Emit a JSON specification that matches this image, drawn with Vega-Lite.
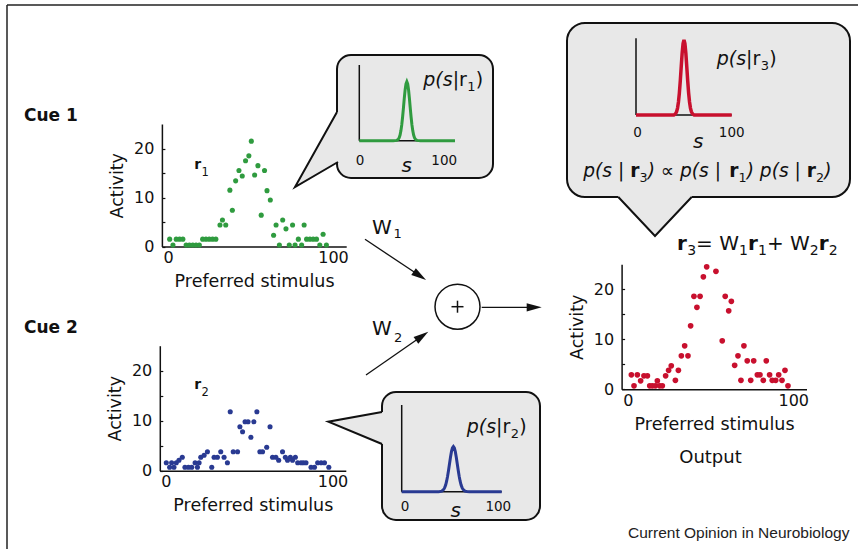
{
"$schema":"https://vega.github.io/schema/vega-lite/v6.json",
"width":858,"height":549,"autosize":{"type":"none"},"padding":0,"background":"white",
"config":{"view":{"stroke":null},
 "axis":{"grid":false,"domainColor":"#111","domainWidth":1.5,"labelFont":"DejaVu Sans","labelFontSize":16,"labelColor":"#111","titleFont":"DejaVu Sans","titleFontSize":17.5,"titleFontWeight":"normal","titleColor":"#111","ticks":false,"labelFlush":false,"labelOverlap":false,"labelBound":false},
 "text":{"font":"DejaVu Sans","color":"#111"}},
"datasets":{
 "cue1":[{"s":1,"a":1.5},{"s":3,"a":0.3},{"s":5,"a":1.5},{"s":7,"a":1.5},{"s":9,"a":1.5},{"s":11,"a":0.3},{"s":13,"a":0.3},{"s":15,"a":0.3},{"s":17,"a":0.3},{"s":19,"a":0.3},{"s":21,"a":1.5},{"s":23,"a":1.5},{"s":25,"a":1.5},{"s":27,"a":1.5},{"s":29,"a":1.5},{"s":31.5,"a":4.4},{"s":33,"a":5.4},{"s":35,"a":4.4},{"s":37.5,"a":11.5},{"s":39,"a":7.4},{"s":41,"a":13.4},{"s":43,"a":15.5},{"s":45,"a":14.4},{"s":47,"a":17.5},{"s":49,"a":18.5},{"s":50.5,"a":21.5},{"s":52.5,"a":14.6},{"s":54.5,"a":16.5},{"s":56.5,"a":6.4},{"s":58.5,"a":15.5},{"s":60,"a":11.4},{"s":62,"a":9.5},{"s":64,"a":2.3},{"s":65.5,"a":4.4},{"s":67.5,"a":0.3},{"s":69.5,"a":5.4},{"s":71.5,"a":3.6},{"s":73.5,"a":0.3},{"s":75.5,"a":4.4},{"s":77,"a":0.3},{"s":79,"a":1.5},{"s":81,"a":0.3},{"s":82.5,"a":4.4},{"s":84,"a":1.5},{"s":86,"a":1.5},{"s":88,"a":1.5},{"s":90,"a":1.5},{"s":92,"a":0.3},{"s":94,"a":2.5},{"s":96,"a":0.3}],
 "cue2":[{"s":0.2,"a":1.6},{"s":2.2,"a":0.7},{"s":3.4,"a":1.6},{"s":4.8,"a":0.7},{"s":6.2,"a":1.6},{"s":7.8,"a":2.1},{"s":9.8,"a":2.7},{"s":11.4,"a":0.7},{"s":13.5,"a":0.7},{"s":15.5,"a":0.7},{"s":17.5,"a":1.6},{"s":18.9,"a":0.7},{"s":19.9,"a":1.6},{"s":20.9,"a":2.7},{"s":22.9,"a":3.1},{"s":24.9,"a":3.8},{"s":27.5,"a":0.7},{"s":28.9,"a":2.7},{"s":30.9,"a":2.7},{"s":32.9,"a":3.8},{"s":34.9,"a":2.7},{"s":36.9,"a":1.6},{"s":38.6,"a":11.8},{"s":40.4,"a":3.8},{"s":43,"a":3.8},{"s":44.4,"a":8.8},{"s":46,"a":7.8},{"s":47.5,"a":9.8},{"s":49.3,"a":9.8},{"s":51,"a":6.7},{"s":52.8,"a":9.8},{"s":54.6,"a":11.8},{"s":56.4,"a":3.8},{"s":58,"a":3.8},{"s":60.5,"a":4.7},{"s":62.5,"a":8.8},{"s":64,"a":2.7},{"s":66,"a":2.7},{"s":67.7,"a":2.1},{"s":70,"a":3.8},{"s":71.7,"a":2.7},{"s":73,"a":2.1},{"s":74.7,"a":2.7},{"s":76,"a":2.1},{"s":77.7,"a":2.7},{"s":79.1,"a":1.6},{"s":81.1,"a":1.6},{"s":82.5,"a":1.6},{"s":84.1,"a":1.6},{"s":87.1,"a":0.7},{"s":89.2,"a":0.7},{"s":91.1,"a":1.6},{"s":93.2,"a":1.6},{"s":95.2,"a":1.6},{"s":97.8,"a":0.7}],
 "out":[{"s":2.2,"a":2.9},{"s":3.8,"a":0.7},{"s":5.8,"a":2.9},{"s":7.8,"a":1.7},{"s":9.8,"a":2.7},{"s":11.9,"a":2.7},{"s":13.3,"a":0.7},{"s":14.9,"a":0.7},{"s":16.7,"a":0.7},{"s":17.9,"a":1.7},{"s":19.3,"a":0.7},{"s":20.9,"a":0.7},{"s":22.9,"a":2.7},{"s":24.7,"a":3.8},{"s":26.3,"a":4.7},{"s":28.8,"a":1.8},{"s":30.6,"a":3.8},{"s":32.4,"a":6.7},{"s":34.4,"a":8.7},{"s":36.4,"a":6.7},{"s":38,"a":12.7},{"s":40,"a":18.6},{"s":41.8,"a":16.4},{"s":43.7,"a":18.6},{"s":45.7,"a":22.5},{"s":47.7,"a":24.5},{"s":53.3,"a":23.6},{"s":57.1,"a":9.7},{"s":58.9,"a":18.6},{"s":61,"a":15.7},{"s":62.6,"a":17.6},{"s":64.6,"a":4.8},{"s":66.6,"a":6.7},{"s":68.4,"a":1.8},{"s":70.2,"a":8.7},{"s":72.2,"a":5.7},{"s":74.3,"a":1.8},{"s":76.1,"a":5.7},{"s":78.3,"a":2.9},{"s":79.9,"a":2.9},{"s":81.9,"a":1.8},{"s":83.7,"a":5.7},{"s":85.7,"a":2.9},{"s":87.3,"a":1.8},{"s":89.4,"a":1.8},{"s":91.2,"a":2.9},{"s":93.2,"a":1.8},{"s":95,"a":3.8},{"s":96.8,"a":0.7}],
 "green_curve":[{"s":0,"p":0},{"s":40,"p":0},{"s":44,"p":0.004},{"s":46,"p":0.02},{"s":47,"p":0.041},{"s":48,"p":0.075},{"s":49,"p":0.13},{"s":50,"p":0.209},{"s":51,"p":0.313},{"s":52,"p":0.435},{"s":53,"p":0.561},{"s":54,"p":0.674},{"s":55,"p":0.752},{"s":56,"p":0.78},{"s":57,"p":0.752},{"s":58,"p":0.674},{"s":59,"p":0.561},{"s":60,"p":0.435},{"s":61,"p":0.313},{"s":62,"p":0.209},{"s":63,"p":0.13},{"s":64,"p":0.075},{"s":65,"p":0.041},{"s":66,"p":0.02},{"s":68,"p":0.004},{"s":72,"p":0},{"s":112.7,"p":0}],
 "blue_curve":[{"s":0,"p":0},{"s":38,"p":0},{"s":39.5,"p":0.0015},{"s":41.5,"p":0.007},{"s":43.5,"p":0.027},{"s":44.5,"p":0.047},{"s":45.5,"p":0.077},{"s":46.5,"p":0.121},{"s":47.5,"p":0.178},{"s":48.5,"p":0.247},{"s":49.5,"p":0.323},{"s":50.5,"p":0.398},{"s":51.5,"p":0.462},{"s":52.5,"p":0.505},{"s":53.5,"p":0.52},{"s":54.5,"p":0.505},{"s":55.5,"p":0.462},{"s":56.5,"p":0.398},{"s":57.5,"p":0.323},{"s":58.5,"p":0.247},{"s":59.5,"p":0.178},{"s":60.5,"p":0.121},{"s":61.5,"p":0.077},{"s":62.5,"p":0.047},{"s":63.5,"p":0.027},{"s":65.5,"p":0.007},{"s":67.5,"p":0.0015},{"s":70,"p":0},{"s":103.5,"p":0}],
 "red_curve":[{"s":0,"p":0},{"s":41,"p":0},{"s":42,"p":0.007},{"s":43,"p":0.019},{"s":44,"p":0.043},{"s":45,"p":0.09},{"s":46,"p":0.169},{"s":47,"p":0.289},{"s":48,"p":0.449},{"s":49,"p":0.632},{"s":50,"p":0.806},{"s":51,"p":0.933},{"s":52,"p":0.98},{"s":53,"p":0.933},{"s":54,"p":0.806},{"s":55,"p":0.632},{"s":56,"p":0.449},{"s":57,"p":0.289},{"s":58,"p":0.169},{"s":59,"p":0.09},{"s":60,"p":0.043},{"s":61,"p":0.019},{"s":62,"p":0.007},{"s":63,"p":0},{"s":103.7,"p":0}],
 "tailfill":[{"b":"g","i":0,"x":343,"y":112},{"b":"g","i":1,"x":337,"y":112},{"b":"g","i":2,"x":295,"y":187},{"b":"g","i":3,"x":338,"y":162},{"b":"g","i":4,"x":343,"y":162},
  {"b":"b","i":0,"x":387,"y":412},{"b":"b","i":1,"x":382,"y":412},{"b":"b","i":2,"x":328.3,"y":421.7},{"b":"b","i":3,"x":382,"y":444},{"b":"b","i":4,"x":387,"y":444},
  {"b":"r","i":0,"x":618.3,"y":192},{"b":"r","i":1,"x":618.3,"y":197},{"b":"r","i":2,"x":655,"y":236},{"b":"r","i":3,"x":691.7,"y":197},{"b":"r","i":4,"x":691.7,"y":192}],
 "tailline":[{"b":"g","i":0,"x":337,"y":112},{"b":"g","i":1,"x":295,"y":187},{"b":"g","i":2,"x":338,"y":162},
  {"b":"b","i":0,"x":382,"y":412},{"b":"b","i":1,"x":328.3,"y":421.7},{"b":"b","i":2,"x":382,"y":444},
  {"b":"r","i":0,"x":618.3,"y":197},{"b":"r","i":1,"x":655,"y":236},{"b":"r","i":2,"x":691.7,"y":197}]
},
"resolve":{"scale":{"x":"independent","y":"independent"}},
"layer":[
 {"data":{"values":[{}]},
  "layer":[
   {"mark":{"type":"rule","stroke":"#222","strokeWidth":1.5},"encoding":{"x":{"datum":7,"scale":{"domain":[0,858],"range":[0,858],"nice":false,"zero":false},"axis":null},"x2":{"datum":858},"y":{"datum":5,"scale":{"domain":[0,549],"range":[0,549],"nice":false,"zero":false},"axis":null}}},
   {"mark":{"type":"rule","stroke":"#222","strokeWidth":1.5},"encoding":{"x":{"datum":7,"axis":null},"y":{"datum":5,"axis":null},"y2":{"datum":549}}},
   {"mark":{"type":"rect","fill":"#e8e8e8","stroke":"#111","strokeWidth":2,"cornerRadius":14},"encoding":{"x":{"datum":337,"axis":null},"x2":{"datum":493},"y":{"datum":55,"axis":null},"y2":{"datum":178}}},
   {"mark":{"type":"rect","fill":"#e8e8e8","stroke":"#111","strokeWidth":2,"cornerRadius":14},"encoding":{"x":{"datum":382,"axis":null},"x2":{"datum":540},"y":{"datum":392,"axis":null},"y2":{"datum":520}}},
   {"mark":{"type":"rect","fill":"#e8e8e8","stroke":"#111","strokeWidth":2,"cornerRadius":18},"encoding":{"x":{"datum":567,"axis":null},"x2":{"datum":850},"y":{"datum":23,"axis":null},"y2":{"datum":197}}},
   {"data":{"name":"tailfill"},"mark":{"type":"line","fill":"#e8e8e8","strokeWidth":0},"encoding":{"x":{"field":"x","type":"quantitative","axis":null},"y":{"field":"y","type":"quantitative","axis":null},"detail":{"field":"b"},"order":{"field":"i"}}},
   {"data":{"name":"tailline"},"mark":{"type":"line","stroke":"#111","strokeWidth":2,"strokeJoin":"miter"},"encoding":{"x":{"field":"x","type":"quantitative","axis":null},"y":{"field":"y","type":"quantitative","axis":null},"detail":{"field":"b"},"order":{"field":"i"}}},
   {"mark":{"type":"point","shape":"circle","size":2025,"filled":true,"fill":"white","stroke":"#111","strokeWidth":1.5,"opacity":1},"encoding":{"x":{"datum":457.5,"axis":null},"y":{"datum":306.7,"axis":null}}},
   {"mark":{"type":"rule","stroke":"#111","strokeWidth":1.5},"encoding":{"x":{"datum":451.5,"axis":null},"x2":{"datum":463.5},"y":{"datum":306.7,"axis":null}}},
   {"mark":{"type":"rule","stroke":"#111","strokeWidth":1.5},"encoding":{"x":{"datum":457.5,"axis":null},"y":{"datum":300.7,"axis":null},"y2":{"datum":312.7}}},
   {"mark":{"type":"rule","stroke":"#111","strokeWidth":1.3},"encoding":{"x":{"datum":365,"axis":null},"y":{"datum":239.3,"axis":null},"x2":{"datum":419.8},"y2":{"datum":275.8}}},
   {"mark":{"type":"point","shape":"M -1 -0.55 L 1 0 L -1 0.55 Z","size":225,"filled":true,"fill":"#111","opacity":1,"angle":33.7},"encoding":{"x":{"datum":419.8,"axis":null},"y":{"datum":275.8,"axis":null}}},
   {"mark":{"type":"rule","stroke":"#111","strokeWidth":1.3},"encoding":{"x":{"datum":366,"axis":null},"y":{"datum":375,"axis":null},"x2":{"datum":422.1},"y2":{"datum":336}}},
   {"mark":{"type":"point","shape":"M -1 -0.55 L 1 0 L -1 0.55 Z","size":225,"filled":true,"fill":"#111","opacity":1,"angle":-34.8},"encoding":{"x":{"datum":422.1,"axis":null},"y":{"datum":336,"axis":null}}},
   {"mark":{"type":"rule","stroke":"#111","strokeWidth":1.3},"encoding":{"x":{"datum":481.7,"axis":null},"x2":{"datum":532},"y":{"datum":307.3,"axis":null}}},
   {"mark":{"type":"point","shape":"M -1 -0.55 L 1 0 L -1 0.55 Z","size":225,"filled":true,"fill":"#111","opacity":1,"angle":0},"encoding":{"x":{"datum":534.2,"axis":null},"y":{"datum":307.3,"axis":null}}},
   {"mark":{"type":"text","text":"Cue 1","fontWeight":"bold","fontSize":17,"align":"left","baseline":"alphabetic"},"encoding":{"x":{"datum":24,"axis":null},"y":{"datum":121,"axis":null}}},
   {"mark":{"type":"text","text":"Cue 2","fontWeight":"bold","fontSize":17,"align":"left","baseline":"alphabetic"},"encoding":{"x":{"datum":24,"axis":null},"y":{"datum":333,"axis":null}}},
   {"mark":{"type":"text","text":"r","fontWeight":"bold","fontSize":14,"align":"left","baseline":"alphabetic"},"encoding":{"x":{"datum":194.3,"axis":null},"y":{"datum":169,"axis":null}}},
   {"mark":{"type":"text","text":"1","fontSize":11.5,"align":"left","baseline":"alphabetic"},"encoding":{"x":{"datum":201.5,"axis":null},"y":{"datum":176,"axis":null}}},
   {"mark":{"type":"text","text":"r","fontWeight":"bold","fontSize":14,"align":"left","baseline":"alphabetic"},"encoding":{"x":{"datum":194.3,"axis":null},"y":{"datum":389,"axis":null}}},
   {"mark":{"type":"text","text":"2","fontSize":11.5,"align":"left","baseline":"alphabetic"},"encoding":{"x":{"datum":201.5,"axis":null},"y":{"datum":395.5,"axis":null}}},
   {"mark":{"type":"text","text":"W","fontSize":20,"align":"left","baseline":"alphabetic"},"encoding":{"x":{"datum":372,"axis":null},"y":{"datum":233.5,"axis":null}}},
   {"mark":{"type":"text","text":"1","fontSize":13,"align":"left","baseline":"alphabetic"},"encoding":{"x":{"datum":393.5,"axis":null},"y":{"datum":237.5,"axis":null}}},
   {"mark":{"type":"text","text":"W","fontSize":20,"align":"left","baseline":"alphabetic"},"encoding":{"x":{"datum":372,"axis":null},"y":{"datum":335,"axis":null}}},
   {"mark":{"type":"text","text":"2","fontSize":13,"align":"left","baseline":"alphabetic"},"encoding":{"x":{"datum":394,"axis":null},"y":{"datum":341.7,"axis":null}}},
   {"mark":{"type":"text","text":"Output","fontSize":18,"align":"center","baseline":"alphabetic"},"encoding":{"x":{"datum":710.5,"axis":null},"y":{"datum":463,"axis":null}}},
   {"mark":{"type":"text","text":"Current Opinion in Neurobiology","font":"Liberation Sans","fontSize":15.5,"align":"left","baseline":"alphabetic","color":"#222"},"encoding":{"x":{"datum":628,"axis":null},"y":{"datum":537.5,"axis":null}}},
   {"mark":{"type":"text","text":"0","fontSize":13.5,"align":"center","baseline":"alphabetic"},"encoding":{"x":{"datum":360,"axis":null},"y":{"datum":164.5,"axis":null}}},
   {"mark":{"type":"text","text":"100","fontSize":13.5,"align":"center","baseline":"alphabetic"},"encoding":{"x":{"datum":444.2,"axis":null},"y":{"datum":164.5,"axis":null}}},
   {"mark":{"type":"text","text":"s","fontSize":20,"fontStyle":"italic","align":"center","baseline":"alphabetic"},"encoding":{"x":{"datum":406.7,"axis":null},"y":{"datum":171.7,"axis":null}}},
   {"mark":{"type":"text","text":"p(s|","fontSize":19,"fontStyle":"italic","align":"left","baseline":"alphabetic"},"encoding":{"x":{"datum":423.3,"axis":null},"y":{"datum":86,"axis":null}}},
   {"mark":{"type":"text","text":"r","fontSize":19,"align":"left","baseline":"alphabetic"},"encoding":{"x":{"datum":459.1,"axis":null},"y":{"datum":86,"axis":null}}},
   {"mark":{"type":"text","text":"1","fontSize":13,"align":"left","baseline":"alphabetic"},"encoding":{"x":{"datum":467.3,"axis":null},"y":{"datum":91,"axis":null}}},
   {"mark":{"type":"text","text":")","fontSize":19,"align":"left","baseline":"alphabetic"},"encoding":{"x":{"datum":475.8,"axis":null},"y":{"datum":86,"axis":null}}},
   {"mark":{"type":"text","text":"0","fontSize":13.5,"align":"center","baseline":"alphabetic"},"encoding":{"x":{"datum":405,"axis":null},"y":{"datum":510.7,"axis":null}}},
   {"mark":{"type":"text","text":"100","fontSize":13.5,"align":"center","baseline":"alphabetic"},"encoding":{"x":{"datum":498.3,"axis":null},"y":{"datum":510.7,"axis":null}}},
   {"mark":{"type":"text","text":"s","fontSize":20,"fontStyle":"italic","align":"center","baseline":"alphabetic"},"encoding":{"x":{"datum":455.8,"axis":null},"y":{"datum":516.7,"axis":null}}},
   {"mark":{"type":"text","text":"p(s|","fontSize":19,"fontStyle":"italic","align":"left","baseline":"alphabetic"},"encoding":{"x":{"datum":466.7,"axis":null},"y":{"datum":433.3,"axis":null}}},
   {"mark":{"type":"text","text":"r","fontSize":19,"align":"left","baseline":"alphabetic"},"encoding":{"x":{"datum":502.5,"axis":null},"y":{"datum":433.3,"axis":null}}},
   {"mark":{"type":"text","text":"2","fontSize":13,"align":"left","baseline":"alphabetic"},"encoding":{"x":{"datum":510.7,"axis":null},"y":{"datum":438.3,"axis":null}}},
   {"mark":{"type":"text","text":")","fontSize":19,"align":"left","baseline":"alphabetic"},"encoding":{"x":{"datum":519.2,"axis":null},"y":{"datum":433.3,"axis":null}}},
   {"mark":{"type":"text","text":"0","fontSize":13.5,"align":"center","baseline":"alphabetic"},"encoding":{"x":{"datum":637.5,"axis":null},"y":{"datum":137.3,"axis":null}}},
   {"mark":{"type":"text","text":"100","fontSize":13.5,"align":"center","baseline":"alphabetic"},"encoding":{"x":{"datum":731.7,"axis":null},"y":{"datum":137.3,"axis":null}}},
   {"mark":{"type":"text","text":"s","fontSize":20,"fontStyle":"italic","align":"center","baseline":"alphabetic"},"encoding":{"x":{"datum":698.3,"axis":null},"y":{"datum":148.3,"axis":null}}},
   {"mark":{"type":"text","text":"p(s|","fontSize":19,"fontStyle":"italic","align":"left","baseline":"alphabetic"},"encoding":{"x":{"datum":716.7,"axis":null},"y":{"datum":65,"axis":null}}},
   {"mark":{"type":"text","text":"r","fontSize":19,"align":"left","baseline":"alphabetic"},"encoding":{"x":{"datum":752.5,"axis":null},"y":{"datum":65,"axis":null}}},
   {"mark":{"type":"text","text":"3","fontSize":13,"align":"left","baseline":"alphabetic"},"encoding":{"x":{"datum":760.7,"axis":null},"y":{"datum":70,"axis":null}}},
   {"mark":{"type":"text","text":")","fontSize":19,"align":"left","baseline":"alphabetic"},"encoding":{"x":{"datum":769.2,"axis":null},"y":{"datum":65,"axis":null}}},
   {"mark":{"type":"text","text":"p(s | ","fontSize":18.6,"fontStyle":"italic","align":"left","baseline":"alphabetic"},"encoding":{"x":{"datum":583.3,"axis":null},"y":{"datum":177,"axis":null}}},
   {"mark":{"type":"text","text":"r","fontSize":18.6,"fontWeight":"bold","align":"left","baseline":"alphabetic"},"encoding":{"x":{"datum":630.2,"axis":null},"y":{"datum":177,"axis":null}}},
   {"mark":{"type":"text","text":"3","fontSize":12.7,"align":"left","baseline":"alphabetic"},"encoding":{"x":{"datum":639.6,"axis":null},"y":{"datum":181.5,"axis":null}}},
   {"mark":{"type":"text","text":") ∝ p(s | ","fontSize":18.6,"fontStyle":"italic","align":"left","baseline":"alphabetic"},"encoding":{"x":{"datum":647.7,"axis":null},"y":{"datum":177,"axis":null}}},
   {"mark":{"type":"text","text":"r","fontSize":18.6,"fontWeight":"bold","align":"left","baseline":"alphabetic"},"encoding":{"x":{"datum":729.2,"axis":null},"y":{"datum":177,"axis":null}}},
   {"mark":{"type":"text","text":"1","fontSize":12.7,"align":"left","baseline":"alphabetic"},"encoding":{"x":{"datum":738.6,"axis":null},"y":{"datum":181.5,"axis":null}}},
   {"mark":{"type":"text","text":") p(s | ","fontSize":18.6,"fontStyle":"italic","align":"left","baseline":"alphabetic"},"encoding":{"x":{"datum":746.7,"axis":null},"y":{"datum":177,"axis":null}}},
   {"mark":{"type":"text","text":"r","fontSize":18.6,"fontWeight":"bold","align":"left","baseline":"alphabetic"},"encoding":{"x":{"datum":806.7,"axis":null},"y":{"datum":177,"axis":null}}},
   {"mark":{"type":"text","text":"2","fontSize":12.7,"align":"left","baseline":"alphabetic"},"encoding":{"x":{"datum":816.1,"axis":null},"y":{"datum":181.5,"axis":null}}},
   {"mark":{"type":"text","text":")","fontSize":18.6,"fontStyle":"italic","align":"left","baseline":"alphabetic"},"encoding":{"x":{"datum":824.2,"axis":null},"y":{"datum":177,"axis":null}}},
   {"mark":{"type":"text","text":"r","fontSize":20,"fontWeight":"bold","align":"left","baseline":"alphabetic"},"encoding":{"x":{"datum":677,"axis":null},"y":{"datum":250,"axis":null}}},
   {"mark":{"type":"text","text":"3","fontSize":14,"align":"left","baseline":"alphabetic"},"encoding":{"x":{"datum":687.2,"axis":null},"y":{"datum":254.5,"axis":null}}},
   {"mark":{"type":"text","text":"= W","fontSize":20,"align":"left","baseline":"alphabetic"},"encoding":{"x":{"datum":696.1,"axis":null},"y":{"datum":250,"axis":null}}},
   {"mark":{"type":"text","text":"1","fontSize":14,"align":"left","baseline":"alphabetic"},"encoding":{"x":{"datum":739,"axis":null},"y":{"datum":254.5,"axis":null}}},
   {"mark":{"type":"text","text":"r","fontSize":20,"fontWeight":"bold","align":"left","baseline":"alphabetic"},"encoding":{"x":{"datum":747.9,"axis":null},"y":{"datum":250,"axis":null}}},
   {"mark":{"type":"text","text":"1","fontSize":14,"align":"left","baseline":"alphabetic"},"encoding":{"x":{"datum":758,"axis":null},"y":{"datum":254.5,"axis":null}}},
   {"mark":{"type":"text","text":"+ W","fontSize":20,"align":"left","baseline":"alphabetic"},"encoding":{"x":{"datum":766.9,"axis":null},"y":{"datum":250,"axis":null}}},
   {"mark":{"type":"text","text":"2","fontSize":14,"align":"left","baseline":"alphabetic"},"encoding":{"x":{"datum":809.8,"axis":null},"y":{"datum":254.5,"axis":null}}},
   {"mark":{"type":"text","text":"r","fontSize":20,"fontWeight":"bold","align":"left","baseline":"alphabetic"},"encoding":{"x":{"datum":818.7,"axis":null},"y":{"datum":250,"axis":null}}},
   {"mark":{"type":"text","text":"2","fontSize":14,"align":"left","baseline":"alphabetic"},"encoding":{"x":{"datum":828.8,"axis":null},"y":{"datum":254.5,"axis":null}}}
  ]},
 {"layer":[
   {"data":{"values":[{}]},"mark":{"type":"rule","stroke":"#111","strokeWidth":1.5},"encoding":{"x":{"datum":0,"scale":{"domain":[0,100],"range":[359.3,444.2],"nice":false,"zero":false},"axis":null},"y":{"datum":0,"scale":{"domain":[0,1],"range":[140.7,65],"nice":false,"zero":false},"axis":null},"y2":{"datum":1}}},
   {"data":{"values":[{}]},"mark":{"type":"rule","stroke":"#111","strokeWidth":1.5},"encoding":{"x":{"datum":0,"axis":null},"x2":{"datum":112.7},"y":{"datum":0,"axis":null}}},
   {"data":{"name":"green_curve"},"mark":{"type":"line","stroke":"#2f9b3f","strokeWidth":3},"encoding":{"x":{"field":"s","type":"quantitative","axis":null},"y":{"field":"p","type":"quantitative","axis":null}}}
 ]},
 {"layer":[
   {"data":{"values":[{}]},"mark":{"type":"rule","stroke":"#111","strokeWidth":1.5},"encoding":{"x":{"datum":0,"scale":{"domain":[0,100],"range":[401.7,498.3],"nice":false,"zero":false},"axis":null},"y":{"datum":0,"scale":{"domain":[0,1],"range":[491.7,405],"nice":false,"zero":false},"axis":null},"y2":{"datum":1}}},
   {"data":{"values":[{}]},"mark":{"type":"rule","stroke":"#111","strokeWidth":1.5},"encoding":{"x":{"datum":0,"axis":null},"x2":{"datum":103.5},"y":{"datum":0,"axis":null}}},
   {"data":{"name":"blue_curve"},"mark":{"type":"line","stroke":"#293a92","strokeWidth":3},"encoding":{"x":{"field":"s","type":"quantitative","axis":null},"y":{"field":"p","type":"quantitative","axis":null}}}
 ]},
 {"layer":[
   {"data":{"values":[{}]},"mark":{"type":"rule","stroke":"#111","strokeWidth":1.5},"encoding":{"x":{"datum":0,"scale":{"domain":[0,100],"range":[636,728.3],"nice":false,"zero":false},"axis":null},"y":{"datum":0,"scale":{"domain":[0,1],"range":[115,38.3],"nice":false,"zero":false},"axis":null},"y2":{"datum":1}}},
   {"data":{"values":[{}]},"mark":{"type":"rule","stroke":"#111","strokeWidth":1.5},"encoding":{"x":{"datum":0,"axis":null},"x2":{"datum":103.7},"y":{"datum":0,"axis":null}}},
   {"data":{"name":"red_curve"},"mark":{"type":"line","stroke":"#c8102e","strokeWidth":3.5},"encoding":{"x":{"field":"s","type":"quantitative","axis":null},"y":{"field":"p","type":"quantitative","axis":null}}}
 ]},
 {"data":{"name":"cue1"},"mark":{"type":"point","filled":true,"size":26,"opacity":1,"color":"#2f9b3f"},"encoding":{
   "x":{"field":"s","type":"quantitative","scale":{"domain":[-3.7,108],"range":[161.9,346.2],"nice":false,"zero":false},"axis":{"orient":"bottom","offset":-302.5,"values":[0,100],"labelPadding":3,"title":"Preferred stimulus","titlePadding":7}},
   "y":{"field":"a","type":"quantitative","scale":{"domain":[0,25],"range":[246.5,124],"nice":false,"zero":false},"axis":{"orient":"left","offset":-161.9,"values":[0,5,10,15,20],"labelExpr":"datum.value % 10 === 0 ? datum.label : ''","ticks":true,"tickSize":-3,"tickColor":"#111","tickWidth":1.2,"labelPadding":11,"title":"Activity","titlePadding":7}}}},
 {"data":{"name":"cue2"},"mark":{"type":"point","filled":true,"size":26,"opacity":1,"color":"#293a92"},"encoding":{
   "x":{"field":"s","type":"quantitative","scale":{"domain":[-3.7,108],"range":[159.8,345.8],"nice":false,"zero":false},"axis":{"orient":"bottom","offset":-78.3,"values":[0,100],"labelPadding":3,"title":"Preferred stimulus","titlePadding":7}},
   "y":{"field":"a","type":"quantitative","scale":{"domain":[0,25],"range":[470.7,345.7],"nice":false,"zero":false},"axis":{"orient":"left","offset":-159.8,"values":[0,5,10,15,20],"labelExpr":"datum.value % 10 === 0 ? datum.label : ''","ticks":true,"tickSize":-3,"tickColor":"#111","tickWidth":1.2,"labelPadding":11,"title":"Activity","titlePadding":7}}}},
 {"data":{"name":"out"},"mark":{"type":"point","filled":true,"size":32,"opacity":1,"color":"#c8102e"},"encoding":{
   "x":{"field":"s","type":"quantitative","scale":{"domain":[-3.7,108],"range":[621.6,806.5],"nice":false,"zero":false},"axis":{"orient":"bottom","offset":-159.7,"values":[0,100],"labelPadding":3,"title":"Preferred stimulus","titlePadding":7}},
   "y":{"field":"a","type":"quantitative","scale":{"domain":[0,25],"range":[389.3,264.3],"nice":false,"zero":false},"axis":{"orient":"left","offset":-621.6,"values":[0,5,10,15,20],"labelExpr":"datum.value % 10 === 0 ? datum.label : ''","ticks":true,"tickSize":-3,"tickColor":"#111","tickWidth":1.2,"labelPadding":11,"title":"Activity","titlePadding":7}}}}
]
}
